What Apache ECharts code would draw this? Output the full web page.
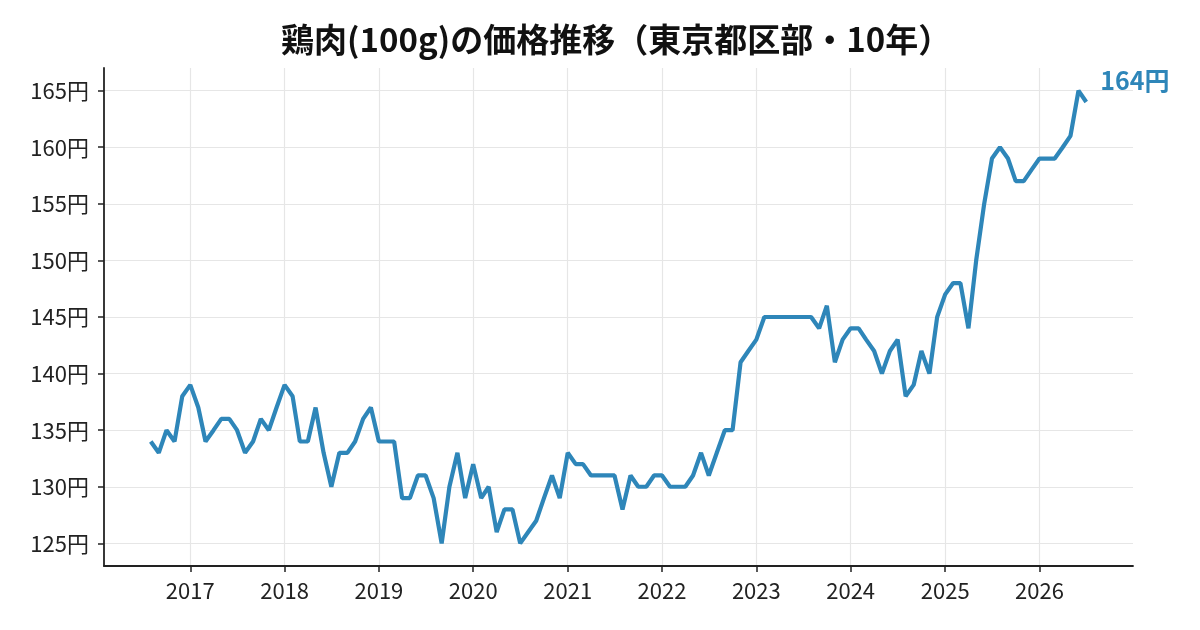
<!DOCTYPE html>
<html>
<head>
<meta charset="utf-8">
<script src="https://cdn.jsdelivr.net/npm/echarts@6/dist/echarts.min.js"></script>
<style>
  html, body { margin: 0; padding: 0; background: #fff; }
  #chart { width: 1200px; height: 630px; }
</style>
</head>
<body>
<div id="chart"></div>
<script>
// 月次データ: 2016年8月 〜 2026年7月（円/100g）
const START_YEAR = 2016;
const START_MONTH = 8;
const prices = [
  134, 133, 135, 134, 138,                                  // 2016 (8-12月)
  139, 137, 134, 135, 136, 136, 135, 133, 134, 136, 135, 137, // 2017
  139, 138, 134, 134, 137, 133, 130, 133, 133, 134, 136, 137, // 2018
  134, 134, 134, 129, 129, 131, 131, 129, 125, 130, 133, 129, // 2019
  132, 129, 130, 126, 128, 128, 125, 126, 127, 129, 131, 129, // 2020
  133, 132, 132, 131, 131, 131, 131, 128, 131, 130, 130, 131, // 2021
  131, 130, 130, 130, 131, 133, 131, 133, 135, 135, 141, 142, // 2022
  143, 145, 145, 145, 145, 145, 145, 145, 144, 146, 141, 143, // 2023
  144, 144, 143, 142, 140, 142, 143, 138, 139, 142, 140, 145, // 2024
  147, 148, 148, 144, 150, 155, 159, 160, 159, 157, 157, 158, // 2025
  159, 159, 159, 160, 161, 165, 164                          // 2026 (1-7月)
];
const yearTicks = [2017, 2018, 2019, 2020, 2021, 2022, 2023, 2024, 2025, 2026];
const priceTicks = [125, 130, 135, 140, 145, 150, 155, 160, 165];

const FONT = '"Noto Sans CJK JP", "Noto Sans", sans-serif';
const LINE = '#2E86B9';

// 各月1日のタイムスタンプ（x は数値軸で日付を扱う）
const points = prices.map((v, i) => {
  const m = START_MONTH - 1 + i;
  return [Date.UTC(START_YEAR + Math.floor(m / 12), m % 12, 1), v];
});
const yearMs = yearTicks.map(y => Date.UTC(y, 0, 1));

const chart = echarts.init(document.getElementById('chart'), null, { renderer: 'canvas' });
chart.setOption({
  animation: false,
  textStyle: { fontFamily: FONT },
  // タイトルはプロット領域の中央に揃える
  title: {
    text: '鶏肉(100g)の価格推移（東京都区部・10年）',
    left: 281, top: 23, padding: 0,
    textStyle: { fontFamily: FONT, fontSize: 33, fontWeight: 'bold', color: '#111' }
  },
  grid: { left: 104, right: 67, top: 68, bottom: 64 },
  xAxis: {
    type: 'value',
    min: Date.UTC(2016, 1, 2),
    max: Date.UTC(2026, 11, 29),
    axisLine: { lineStyle: { color: '#222', width: 1.8 } },
    axisTick: { show: true, length: 6, lineStyle: { color: '#222', width: 1.5 }, customValues: yearMs },
    axisLabel: {
      customValues: yearMs, margin: 14, fontSize: 22, color: '#222', fontFamily: FONT,
      formatter: v => String(new Date(v).getUTCFullYear())
    },
    splitLine: { show: true, lineStyle: { color: '#e6e6e6', width: 1.2 } }
  },
  yAxis: {
    type: 'value',
    min: 123, max: 167,
    axisLine: { show: true, lineStyle: { color: '#222', width: 1.8 } },
    axisTick: { show: true, length: 6, lineStyle: { color: '#222', width: 1.5 }, customValues: priceTicks },
    axisLabel: {
      customValues: priceTicks, margin: 15, fontSize: 22, color: '#222', fontFamily: FONT,
      formatter: v => v + '円'
    },
    splitLine: { show: true, lineStyle: { color: '#e6e6e6', width: 1.2 } }
  },
  series: [{
    type: 'line',
    data: points,
    showSymbol: false,
    lineStyle: { color: LINE, width: 4.2 },
    itemStyle: { color: LINE },
    endLabel: {
      show: true,
      formatter: p => p.value[1] + '円',
      offset: [6, -21],
      fontSize: 25, fontWeight: 'bold', color: LINE, fontFamily: FONT
    }
  }]
});
</script>
</body>
</html>
